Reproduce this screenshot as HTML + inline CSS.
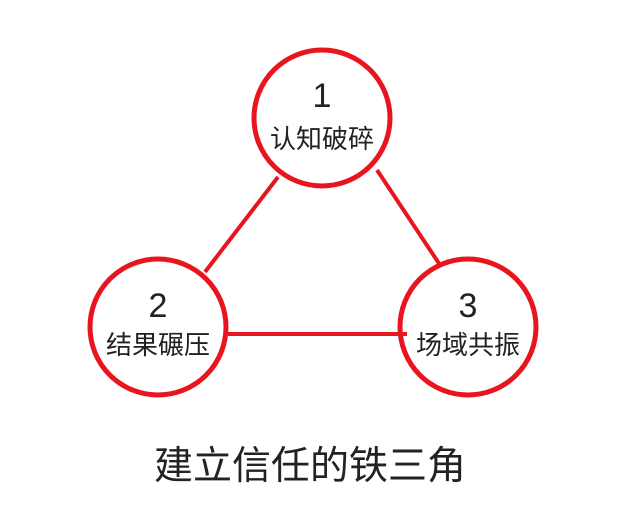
<!DOCTYPE html>
<html><head><meta charset="utf-8"><style>
html,body{margin:0;padding:0;background:#fff;width:640px;height:514px;overflow:hidden}
</style></head><body>
<svg width="640" height="514" xmlns="http://www.w3.org/2000/svg" style="font-family:'Liberation Sans','Noto Sans CJK SC',sans-serif">
<g stroke="#e8141e" stroke-width="4" fill="none">
<line x1="278" y1="177" x2="205" y2="272"/>
<line x1="377" y1="170" x2="440" y2="265"/>
<line x1="228" y1="334" x2="407" y2="334"/>
<circle cx="322" cy="118" r="68" stroke-width="5"/>
<circle cx="158" cy="327" r="68" stroke-width="5"/>
<circle cx="468" cy="327" r="68" stroke-width="5"/>
</g>
<g fill="#222" text-anchor="middle">
<text x="322" y="107" font-size="34">1</text>
<text x="322" y="148" font-size="26">认知破碎</text>
<text x="158" y="317" font-size="34">2</text>
<text x="158" y="354" font-size="26">结果碾压</text>
<text x="468" y="317" font-size="34">3</text>
<text x="468" y="354" font-size="26">场域共振</text>
<text x="310" y="479" font-size="39">建立信任的铁三角</text>
</g>
</svg>
</body></html>
